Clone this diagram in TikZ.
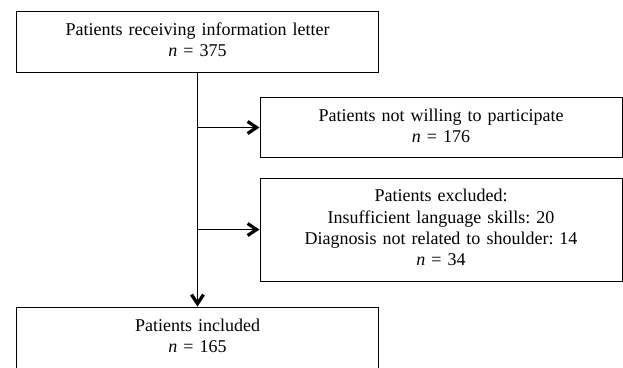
\documentclass[tikz,border=0pt]{standalone}
\usepackage{fontspec}
\setmainfont{Liberation Serif}
\usetikzlibrary{arrows.meta}
\tikzset{
 bloque/.style={
 rectangle,
 draw=black, line width=1pt,
 minimum width=362pt,
 text width=340pt,
 align=center,
 font=\fontsize{18}{21.2}\selectfont\frenchspacing,
 execute at end node={\rule[-4pt]{0pt}{0pt}}}
}

\begin{document}
\begin{tikzpicture}[x=1pt,y=-1pt]
 \useasboundingbox (0,0) rectangle (623,367);

 \node[bloque, minimum height=61pt] (carta) at (197.5,41.5)
 {Patients receiving information letter\\ \textit{n} = 375};
 \node[bloque, minimum height=60pt] (rechazo) at (441,127.5)
 {Patients not willing to participate\\ \textit{n} = 176};
 \node[bloque, minimum height=103pt] (excluidos) at (441,229.5)
 {Patients excluded:\\ Insufficient language skills: 20\\ Diagnosis not related to shoulder: 14\\ \textit{n} = 34};
 \node[bloque, minimum height=61pt] (incluidos) at (197.5,337.5)
 {Patients included\\ \textit{n} = 165};

 \draw[->,-{Straight Barb[length=9pt,width=12pt,line width=3.2pt]},line width=0.9pt] (carta) -- (incluidos);
 \draw[->,-{Straight Barb[length=9pt,width=12pt,line width=3.2pt]},line width=0.9pt] (carta.south |- rechazo.west) -- (rechazo.west);
 \draw[->,-{Straight Barb[length=9pt,width=12pt,line width=3.2pt]},line width=0.9pt] (carta.south |- excluidos.west) -- (excluidos.west);
\end{tikzpicture}
\end{document}
